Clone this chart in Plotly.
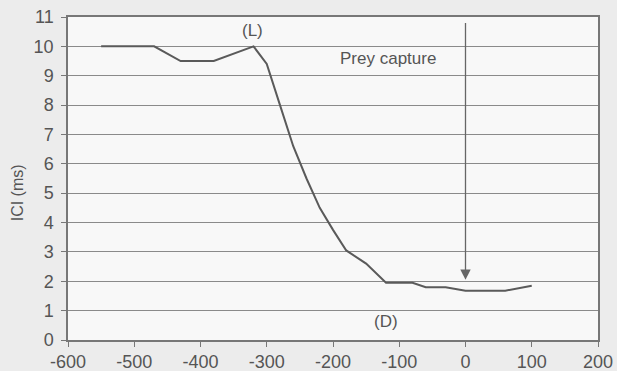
import plotly.graph_objects as go

time_ms = [-550, -470, -430, -380, -320, -300, -280, -260, -240, -220, -200, -180,
           -150, -120, -80, -60, -30, 0, 60, 100]
ici_ms = [10.0, 10.0, 9.5, 9.5, 10.0, 9.4, 8.0, 6.6, 5.5, 4.5, 3.75, 3.05,
          2.6, 1.95, 1.95, 1.8, 1.8, 1.68, 1.68, 1.85]

x_ticks = [-600, -500, -400, -300, -200, -100, 0, 100, 200]
x_labels = [str(v) for v in x_ticks]
y_ticks = list(range(0, 12))

line_col = "#5a5a5a"
font = dict(family="Liberation Sans, Arial, sans-serif", color="#555555")

fig = go.Figure()
fig.add_trace(go.Scatter(x=time_ms, y=ici_ms, mode="lines",
                         line=dict(color=line_col, width=2), showlegend=False,
                         hoverinfo="skip"))

fig.add_annotation(x=0, y=2.05, ax=0, ay=10.85, xref="x", yref="y", axref="x", ayref="y",
                   showarrow=True, arrowhead=2, arrowsize=1.6, arrowwidth=1.3,
                   arrowcolor="#666666", text="")
fig.add_annotation(x=-42, y=9.57, xref="x", yref="y", text="Prey capture",
                   showarrow=False, xanchor="right", font=dict(size=17, **font))
fig.add_annotation(x=-322, y=10.55, xref="x", yref="y", text="(L)",
                   showarrow=False, font=dict(size=17, **font))
fig.add_annotation(x=-120, y=0.62, xref="x", yref="y", text="(D)",
                   showarrow=False, font=dict(size=17, **font))
fig.add_annotation(xref="x domain", yref="y", x=-0.096, y=5.0, text="ICI (ms)",
                   xanchor="center", yanchor="middle",
                   showarrow=False, textangle=-90, font=dict(size=16, **font))

fig.update_xaxes(range=[-600, 200], tickvals=x_ticks, ticktext=x_labels, ticks="outside",
                 ticklen=5, tickcolor="#777777", showgrid=False, zeroline=False,
                 showline=True, linecolor="#777777", linewidth=1.5, mirror=True,
                 tickfont=dict(size=18, **font), automargin=False)
fig.update_yaxes(range=[0, 11], tickvals=y_ticks, ticks="outside", ticklen=5,
                 tickcolor="#777777", showgrid=True, gridcolor="#8a8a8a", gridwidth=1,
                 zeroline=False, showline=True, linecolor="#777777", linewidth=1.5,
                 mirror=True, tickfont=dict(size=18, **font), ticklabelstandoff=4,
                 automargin=False)

fig.update_layout(width=617, height=371, margin=dict(l=68, r=19, t=17, b=31),
                  paper_bgcolor="#ececec", plot_bgcolor="#f8f8f8",
                  font=font)

fig.write_html("out.html")
